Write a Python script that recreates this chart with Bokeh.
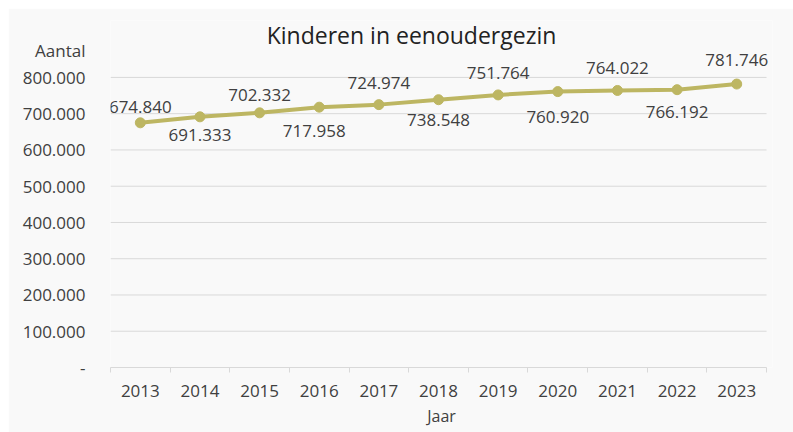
from bokeh.plotting import figure
from bokeh.models import Range1d, FixedTicker, Label, ColumnDataSource
from bokeh.core.properties import value
from bokeh.embed import file_html
from bokeh.resources import INLINE

# ---- data ----
years = [2013, 2014, 2015, 2016, 2017, 2018, 2019, 2020, 2021, 2022, 2023]
year_labels = ["2013", "2014", "2015", "2016", "2017", "2018", "2019", "2020", "2021", "2022", "2023"]
kinderen = [674840, 691333, 702332, 717958, 724974, 738548, 751764, 760920, 764022, 766192, 781746]
value_labels = ["674.840", "691.333", "702.332", "717.958", "724.974", "738.548",
                "751.764", "760.920", "764.022", "766.192", "781.746"]
y_ticks = [0, 100000, 200000, 300000, 400000, 500000, 600000, 700000, 800000]
y_tick_labels = ["-", "100.000", "200.000", "300.000", "400.000", "500.000",
                 "600.000", "700.000", "800.000"]
title_text = "Kinderen in eenoudergezin"
y_title = "Aantal"
x_title = "Jaar"

# ---- label placement (pixels / layout, style only) ----
label_dx = [0, 0, 0, -5, 0, 0, 0, 0, 0, 0, 0]
label_dy = [-16, 18, -18, 24, -22, 20, -22, 25, -22, 22, -24]
y_top = 957000          # top of the visible value range (room for title/labels)
y_title_at = 874000     # where the "Aantal" caption sits on the y axis

FONT = "Open Sans"
BG = "#f9f9f9"
TXT = "#404040"
GRID = "#d9d9d9"
LINE = "#bdb662"

x_lo, x_hi = years[0] - 0.5, years[-1] + 0.5

p = figure(width=785, height=424, output_backend="svg", toolbar_location=None,
           x_range=Range1d(x_lo, x_hi + 0.1),
           y_range=Range1d(0, y_top),
           min_border_left=102, min_border_right=21, min_border_top=12, min_border_bottom=65)
p.margin = (8, 0, 0, 8)
p.background_fill_color = BG
p.border_fill_color = BG
p.outline_line_color = None

# x axis
p.xaxis.ticker = FixedTicker(ticks=years, minor_ticks=[y - 0.5 for y in years] + [x_hi])
p.xaxis.bounds = (x_lo, x_hi)
p.xaxis.major_label_overrides = {y: l for y, l in zip(years, year_labels)}
p.xaxis.major_tick_line_color = None
p.xaxis.major_tick_out = 0
p.xaxis.major_tick_in = 0
p.xaxis.minor_tick_line_color = GRID
p.xaxis.minor_tick_in = 0
p.xaxis.minor_tick_out = 5
p.xaxis.axis_line_color = GRID
p.xaxis.major_label_text_font = FONT
p.xaxis.major_label_text_font_size = "17px"
p.xaxis.major_label_text_color = TXT
p.xaxis.major_label_standoff = 12
p.xaxis.axis_label = x_title
p.xaxis.axis_label_text_font = FONT
p.xaxis.axis_label_text_font_size = "16px"
p.xaxis.axis_label_text_font_style = "normal"
p.xaxis.axis_label_text_color = TXT
p.xaxis.axis_label_standoff = 5

# y axis (caption "Aantal" shown as the topmost axis label)
overrides = {t: l for t, l in zip(y_ticks, y_tick_labels)}
overrides[y_title_at] = y_title
p.yaxis.ticker = FixedTicker(ticks=y_ticks + [y_title_at], minor_ticks=[])
p.yaxis.major_label_overrides = overrides
p.yaxis.axis_line_color = None
p.yaxis.major_tick_line_color = None
p.yaxis.major_tick_out = 0
p.yaxis.major_tick_in = 0
p.yaxis.minor_tick_line_color = None
p.yaxis.major_label_text_font = FONT
p.yaxis.major_label_text_font_size = "17px"
p.yaxis.major_label_text_color = TXT
p.yaxis.major_label_standoff = 25

p.xgrid.grid_line_color = None
p.ygrid.grid_line_color = None

# horizontal gridlines, ending at the last category boundary
gy = y_ticks[1:]
p.segment(x0=[x_lo] * len(gy), x1=[x_hi] * len(gy), y0=gy, y1=gy,
          line_color=GRID, line_width=1, level="underlay")

src = ColumnDataSource(dict(x=years, y=kinderen, lab=value_labels, dx=label_dx, dy=label_dy))
p.line("x", "y", source=src, line_color=LINE, line_width=4)
p.scatter("x", "y", source=src, size=10, fill_color=LINE, line_color=LINE)
p.text("x", "y", text="lab", source=src, x_offset="dx", y_offset="dy",
       text_font=value(FONT), text_font_size="17px", text_color=TXT,
       text_align="center", text_baseline="middle")

# chart title
p.add_layout(Label(x=(x_lo + x_hi) / 2, y=y_top, x_offset=-27, y_offset=-14,
                   text=title_text, text_font=FONT, text_font_size="23px",
                   text_color="#222222", text_align="center", text_baseline="middle"))

open("out.html", "w").write(file_html(p, INLINE))
